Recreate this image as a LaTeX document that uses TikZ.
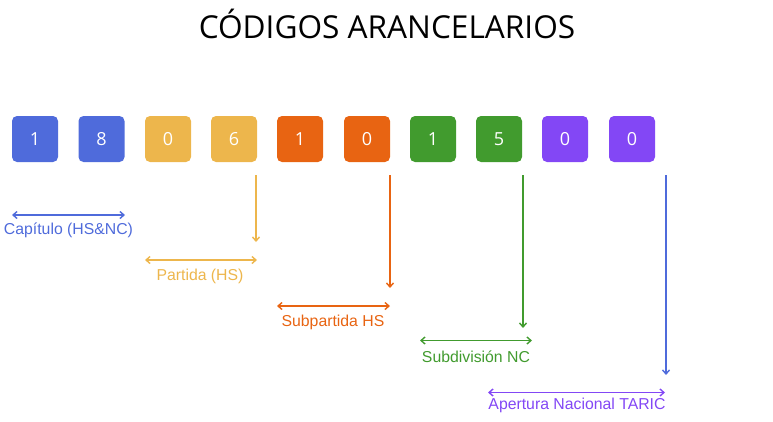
\documentclass[tikz,border=0pt]{standalone}
\usepackage{fontspec}
\setmainfont{Open Sans}
\newfontfamily\labfont{Liberation Sans}
\usetikzlibrary{arrows.meta}
\definecolor{cblue}{HTML}{4F6BDB}
\definecolor{cyellow}{HTML}{EDB64C}
\definecolor{corange}{HTML}{E86412}
\definecolor{cgreen}{HTML}{419B2E}
\definecolor{cpurple}{HTML}{8347F5}
\begin{document}
\begin{tikzpicture}[x=1pt,y=-1pt,
  digit/.style={rounded corners=5pt,minimum width=46pt,minimum height=46pt,inner sep=0pt,text=white,font=\fontsize{18}{18}\selectfont},
  lab/.style={font=\labfont\fontsize{15.8}{16}\selectfont,inner sep=0pt,anchor=center},
  conn/.style={line width=1.5pt,-{Straight Barb[length=4pt,width=7pt,line width=1.4pt]}},
  span/.style={line width=1.5pt,{Straight Barb[length=4pt,width=7pt,line width=1.4pt]}-{Straight Barb[length=4pt,width=7pt,line width=1.4pt]}}]
\useasboundingbox (0,0) rectangle (773,421);
\node[font=\fontsize{31.6}{32}\selectfont,inner sep=0pt] (title) at (387,24) {CÓDIGOS ARANCELARIOS};
% digit boxes
\node[digit,fill=cblue] (b1) at (35,139) {1};
\node[digit,fill=cblue] (b2) at (101.5,139) {8};
\node[digit,fill=cyellow] (b3) at (168,139) {0};
\node[digit,fill=cyellow] (b4) at (234,139) {6};
\node[digit,fill=corange] (b5) at (300,139) {1};
\node[digit,fill=corange] (b6) at (367,139) {0};
\node[digit,fill=cgreen] (b7) at (433,139) {1};
\node[digit,fill=cgreen] (b8) at (499,139) {5};
\node[digit,fill=cpurple] (b9) at (565,139) {0};
\node[digit,fill=cpurple] (b10) at (632,139) {0};
% Capitulo
\coordinate (c1l) at (12,215);
\coordinate (c1r) at (125,215);
\draw[span,cblue] (c1l) -- (c1r);
\node[lab,text=cblue] (l1) at (68.5,230) {Capítulo (HS\&NC)};
% Partida
\coordinate (v2t) at (256,175);
\coordinate (v2b) at (256,242);
\draw[conn,cyellow] (v2t) -- (v2b);
\coordinate (c2l) at (145,260);
\coordinate (c2r) at (257,260);
\draw[span,cyellow] (c2l) -- (c2r);
\node[lab,text=cyellow] (l2) at (200,276) {Partida (HS)};
% Subpartida
\coordinate (v3t) at (390,175);
\coordinate (v3b) at (390,288);
\draw[conn,corange] (v3t) -- (v3b);
\coordinate (c3l) at (277,306);
\coordinate (c3r) at (390,306);
\draw[span,corange] (c3l) -- (c3r);
\node[lab,text=corange] (l3) at (333,322) {Subpartida HS};
% Subdivision
\coordinate (v4t) at (523,175);
\coordinate (v4b) at (523,328);
\draw[conn,cgreen] (v4t) -- (v4b);
\coordinate (c4l) at (420,340.5);
\coordinate (c4r) at (532,340.5);
\draw[span,cgreen] (c4l) -- (c4r);
\node[lab,text=cgreen] (l4) at (476,357) {Subdivisión NC};
% TARIC
\coordinate (v5t) at (666,175);
\coordinate (v5b) at (666,375);
\draw[conn,cblue] (v5t) -- (v5b);
\coordinate (c5l) at (488,392.5);
\coordinate (c5r) at (665,392.5);
\draw[span,cpurple] (c5l) -- (c5r);
\node[lab,text=cpurple] (l5) at (577,405) {Apertura Nacional TARIC};
\end{tikzpicture}
\end{document}
